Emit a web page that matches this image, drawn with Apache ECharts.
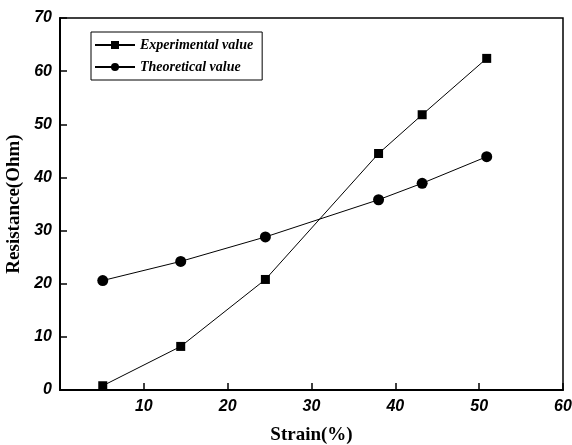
<!DOCTYPE html>
<html>
<head>
<meta charset="utf-8">
<script src="https://cdn.jsdelivr.net/npm/echarts@6/dist/echarts.min.js"></script>
<style>
html, body { margin: 0; padding: 0; background: #fff; }
#chart-panel { width: 572px; height: 445px; }
</style>
</head>
<body>
<div id="chart-panel"></div>
<script>
// strain (%) and resistance (Ohm)
var strain = [5.1, 14.4, 24.5, 38.0, 43.2, 50.9];
var experimental = [0.8, 8.2, 20.8, 44.5, 51.8, 62.4];
var theoretical = [20.6, 24.2, 28.8, 35.8, 38.9, 43.9];
var seriesNames = ['Experimental value', 'Theoretical value'];

function pairs(xs, ys) {
    return xs.map(function (x, i) { return [x, ys[i]]; });
}

var tickLabel = {
    color: '#000',
    fontFamily: 'Liberation Sans',
    fontWeight: 'bold',
    fontStyle: 'italic',
    fontSize: 16
};

var chartOption = {
    backgroundColor: '#fff',
    animation: false,
    grid: {
        show: true,
        left: 60,
        right: 9,
        top: 18,
        bottom: 55,
        containLabel: false,
        outerBoundsMode: 'none',
        borderColor: '#000',
        borderWidth: 1.5,
        backgroundColor: 'transparent'
    },
    legend: {
        orient: 'vertical',
        left: 91,
        top: 32,
        itemWidth: 40,
        itemHeight: 10,
        itemGap: 8,
        padding: [6, 9, 6, 3],
        borderColor: '#000',
        borderWidth: 1,
        backgroundColor: '#fff',
        textStyle: {
            color: '#000',
            fontFamily: 'Liberation Serif',
            fontWeight: 'bold',
            fontStyle: 'italic',
            fontSize: 14
        },
        data: seriesNames
    },
    xAxis: {
        type: 'value',
        min: 0,
        max: 60,
        interval: 10,
        name: 'Strain(%)',
        nameLocation: 'middle',
        nameGap: 36,
        nameTextStyle: {
            color: '#000',
            fontFamily: 'Liberation Serif',
            fontWeight: 'bold',
            fontSize: 19
        },
        axisLine: { show: true, onZero: false, lineStyle: { color: '#000', width: 2 } },
        axisTick: { show: true, inside: true, length: 7, lineStyle: { color: '#000', width: 1.5 } },
        axisLabel: Object.assign({ margin: 9, showMinLabel: false }, tickLabel),
        splitLine: { show: false }
    },
    yAxis: {
        type: 'value',
        min: 0,
        max: 70,
        interval: 10,
        name: 'Resistance(Ohm)',
        nameLocation: 'middle',
        nameGap: 31,
        nameTextStyle: {
            color: '#000',
            fontFamily: 'Liberation Serif',
            fontWeight: 'bold',
            fontSize: 19
        },
        axisLine: { show: true, onZero: false, lineStyle: { color: '#000', width: 2 } },
        axisTick: { show: true, inside: true, length: 7, lineStyle: { color: '#000', width: 1.5 } },
        axisLabel: Object.assign({ margin: 8 }, tickLabel),
        splitLine: { show: false }
    },
    series: [{
        name: seriesNames[0],
        type: 'line',
        data: pairs(strain, experimental),
        symbol: 'rect',
        symbolSize: 9,
        itemStyle: { color: '#000' },
        lineStyle: { color: '#000', width: 1 }
    }, {
        name: seriesNames[1],
        type: 'line',
        data: pairs(strain, theoretical),
        symbol: 'circle',
        symbolSize: 11,
        itemStyle: { color: '#000' },
        lineStyle: { color: '#000', width: 1 }
    }]
};

var myChart = echarts.init(document.getElementById('chart-panel'));
myChart.setOption(chartOption);
</script>
</body>
</html>
